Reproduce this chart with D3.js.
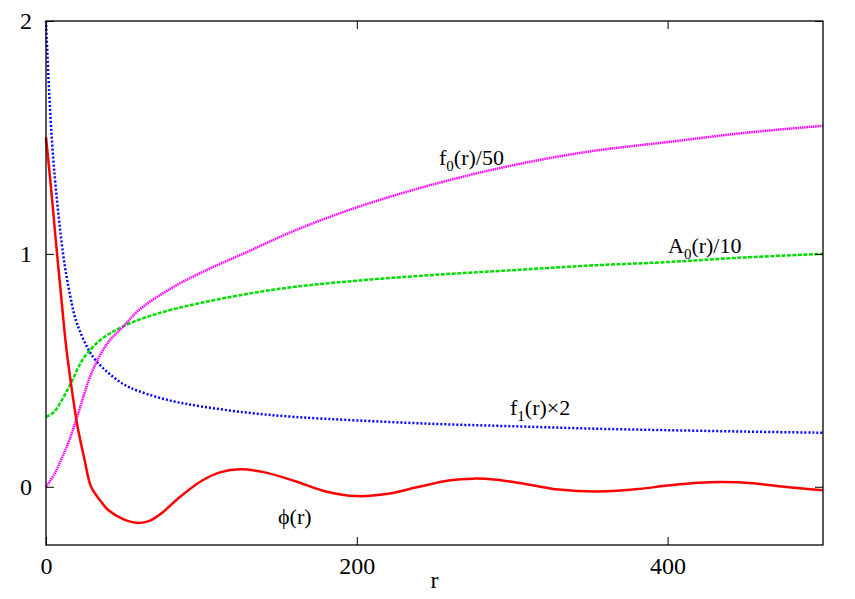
<!DOCTYPE html>
<html><head><meta charset="utf-8">
<script src="https://cdn.jsdelivr.net/npm/d3@7"></script>
<style>body{margin:0;background:#fff}</style>
</head><body><svg id="c" width="855" height="599"></svg>
<script>
var phiR = [0,3,6,10,13,17,20,25,29,35,40,50,59,67,75,85,100,112,125,140,160,180,200,220,240,260,275,290,310,330,355,380,400,420,435,455,475,500];
var phiV = [1.5,1.3,1.08,0.8,0.6,0.4,0.27,0.11,0.0,-0.06,-0.1,-0.14,-0.155,-0.145,-0.11,-0.05,0.025,0.062,0.075,0.063,0.025,-0.02,-0.04,-0.03,0.0,0.028,0.035,0.03,0.01,-0.012,-0.02,-0.01,0.005,0.017,0.02,0.015,0.0,-0.015];
var f1R = [0,2,5,11,15,20,30,40,50,60,80,100,130,160,200,250,300,350,400,450,500];
var f1V = [2.0,1.7,1.38,1.0,0.84,0.7,0.56,0.49,0.44,0.41,0.37,0.345,0.318,0.30,0.285,0.27,0.26,0.25,0.243,0.237,0.232];
var a0R = [0,5,10,16,24,35,50,70,100,150,200,250,300,350,400,450,500];
var a0V = [0.3,0.32,0.37,0.445,0.55,0.63,0.69,0.74,0.79,0.85,0.885,0.91,0.93,0.95,0.965,0.985,1.0];
var f0R = [0,5,10,15,20,30,40,50,60,80,100,130,160,200,250,300,350,400,450,500];
var f0V = [0,0.05,0.12,0.2,0.3,0.5,0.62,0.69,0.76,0.85,0.92,1.01,1.1,1.2,1.3,1.38,1.44,1.48,1.52,1.55];
var xTicks = [0,200,400];
var yTicks = [0,1,2];

var FONT = "'Liberation Serif', 'Times New Roman', serif";
var svg = d3.select("#c");
var L=46, R=823, T=21, B=545;
var x = d3.scaleLinear().domain([0,500]).range([L,R]);
var y = d3.scaleLinear().domain([-0.25,2]).range([B,T]);

function draw(rs, vs, color, dash, w) {
  var line = d3.line().x(function(d){return x(d[0]);}).y(function(d){return y(d[1]);}).curve(d3.curveCatmullRom);
  svg.append("path").datum(d3.zip(rs,vs)).attr("d",line)
    .attr("fill","none").attr("stroke",color).attr("stroke-width",w)
    .attr("stroke-dasharray",dash);
}
draw(f1R,f1V,"#0000ff","2,2",2.5);
draw(a0R,a0V,"#00dd00","4,1.5",2.5);
draw(f0R,f0V,"#ff00ff","1.5,0.7",2.5);
draw(phiR,phiV,"#ff0000",null,2.5);

svg.append("rect").attr("x",L).attr("y",T).attr("width",R-L).attr("height",B-T)
  .attr("fill","none").attr("stroke","#000").attr("stroke-width",1.3);
svg.append("g").attr("transform","translate(0,"+B+")").call(d3.axisBottom(x).tickValues(xTicks).tickSize(-8).tickPadding(12).tickFormat(d3.format("d")))
  .call(function(g){g.select(".domain").remove();g.attr("font-family",FONT).attr("font-size",24);});
svg.append("g").attr("transform","translate(0,"+T+")").call(d3.axisTop(x).tickValues(xTicks).tickSize(-8).tickFormat(""))
  .call(function(g){g.select(".domain").remove();});
svg.append("g").attr("transform","translate("+L+",0)").call(d3.axisLeft(y).tickValues(yTicks).tickSize(-8).tickPadding(14).tickFormat(d3.format("d")))
  .call(function(g){g.select(".domain").remove();g.attr("font-family",FONT).attr("font-size",24);});
svg.append("g").attr("transform","translate("+R+",0)").call(d3.axisRight(y).tickValues(yTicks).tickSize(-8).tickFormat(""))
  .call(function(g){g.select(".domain").remove();});

svg.append("text").attr("x",(L+R)/2).attr("y",588).attr("text-anchor","middle")
  .attr("font-family",FONT).attr("font-size",24).text("r");

function label(px,py,main,sub,rest){
  var t=svg.append("text").attr("x",px).attr("y",py).attr("font-family",FONT).attr("font-size",22);
  t.append("tspan").text(main);
  if(sub){t.append("tspan").attr("font-size",15).attr("dy",6).text(sub);
  t.append("tspan").attr("dy",-6).text(rest);}
}
label(439,165,"f","0","(r)/50");
label(668,253,"A","0","(r)/10");
label(510,415,"f","1","(r)\u00d72");
label(278,524,"\u03d5(r)");
</script></body></html>
